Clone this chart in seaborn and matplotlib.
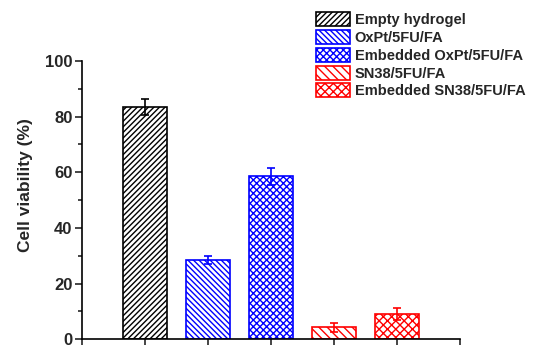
import matplotlib
matplotlib.use('Agg')
import matplotlib.pyplot as plt
from matplotlib.ticker import MultipleLocator
import seaborn as sns
import pandas as pd

# data
groups = ['Empty hydrogel', 'OxPt/5FU/FA', 'Embedded OxPt/5FU/FA',
          'SN38/5FU/FA', 'Embedded SN38/5FU/FA']
positions = [1, 2, 3, 4, 5]
viability = [83.5, 28.4, 58.6, 4.3, 9.0]
errors = [3.0, 1.5, 3.0, 1.6, 2.2]
edge_colors = ['#000000', '#0000FF', '#0000FF', '#FF0000', '#FF0000']
hatches = ['//////', '\\' * 6, 'xxxxx', '\\' * 4, 'xxxx']

sns.set_style('ticks')
plt.rcParams['font.family'] = ['Liberation Sans', 'DejaVu Sans']
plt.rcParams['font.weight'] = 'bold'
plt.rcParams['hatch.linewidth'] = 1.0

df = pd.DataFrame({'pos': positions, 'viability': viability, 'group': groups})

fig = plt.figure(figsize=(5.34, 3.45), dpi=100)
ax = fig.add_axes([0.154, 0.017, 0.707, 0.806])

sns.barplot(data=df, x='pos', y='viability', native_scale=True, width=0.71,
            color='white', errorbar=None, ax=ax)

for patch, ec, h in zip(ax.patches, edge_colors, hatches):
    patch.set_facecolor('white')
    patch.set_edgecolor(ec)
    patch.set_hatch(h)
    patch.set_linewidth(1.2)

for x, y, e, c in zip(positions, viability, errors, edge_colors):
    ax.errorbar(x, y, yerr=e, fmt='none', ecolor=c, elinewidth=1.2,
                capsize=3, capthick=1.2)

ax.set_xlim(0, 6)
ax.set_ylim(0, 100)
ax.set_xticks([0, 1, 2, 3, 4, 5, 6])
ax.set_xticklabels([])
ax.yaxis.set_major_locator(MultipleLocator(20))
ax.yaxis.set_minor_locator(MultipleLocator(10))
ax.tick_params(axis='both', which='major', direction='out', length=5, width=1.2,
               labelsize=12, pad=2)
ax.tick_params(axis='y', which='minor', direction='out', length=3, width=1.2)
for lab in ax.get_yticklabels():
    lab.set_fontweight('bold')
ax.set_xlabel('')
ax.set_ylabel('Cell viability (%)', fontsize=12.5, fontweight='bold')
ax.yaxis.set_label_coords(-0.13, 0.554)

sns.despine(ax=ax)
for side in ['left', 'bottom']:
    ax.spines[side].set_linewidth(1.2)
    ax.spines[side].set_color('black')

handles = list(ax.patches)
ax.legend(handles, groups, loc='upper left', bbox_to_anchor=(316 / 534, 1 - 12 / 345),
          bbox_transform=fig.transFigure, frameon=False, borderpad=0,
          handlelength=2.35, handleheight=1.1, labelspacing=0.2, handletextpad=0.3,
          borderaxespad=0, prop={'size': 10.5, 'weight': 'bold'})

fig.savefig('out.png', dpi=100)
